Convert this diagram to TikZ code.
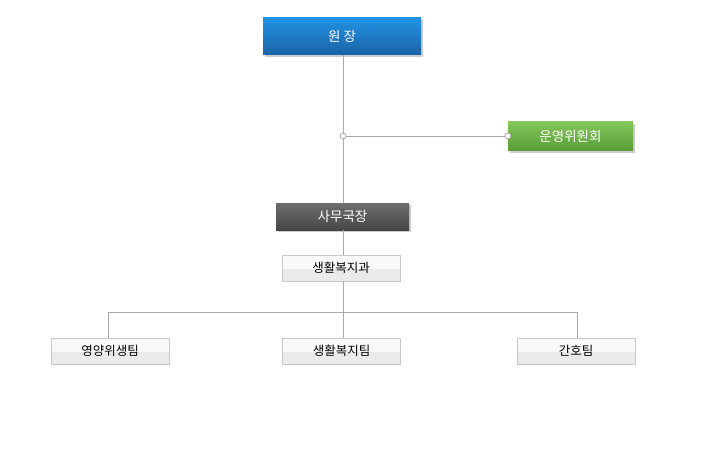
\documentclass[tikz,border=0pt]{standalone}
\usepackage{fontspec}
\setmainfont{Noto Sans CJK KR}
\usetikzlibrary{shadows}
\definecolor{lineg}{HTML}{A8A8A8}
\definecolor{bluetop}{HTML}{2193E3}
\definecolor{bluebot}{HTML}{1A62A6}
\definecolor{greentop}{HTML}{84C75A}
\definecolor{greenbot}{HTML}{5A9C38}
\definecolor{darktop}{HTML}{6E6E6E}
\definecolor{darkbot}{HTML}{474747}
\definecolor{lightbd}{HTML}{C8C8C8}
\definecolor{lighttop}{HTML}{F9F9F9}
\definecolor{lightbot}{HTML}{EAEAEA}
\tikzset{
  conn/.style={draw=lineg, line width=0.8pt},
  headbox/.style={minimum height=#1, inner sep=0pt, text=white, font=\fontsize{13.5}{15}\selectfont,
    drop shadow={shadow xshift=2pt, shadow yshift=-2pt, opacity=0.2, fill=black}},
  lightbox/.style={minimum width=118pt, minimum height=26pt, inner sep=0pt, draw=lightbd,
    fill=lightbot, font=\fontsize{12.5}{14}\selectfont,
    path picture={\fill[lighttop] (path picture bounding box.north west) rectangle ([yshift=-1pt]path picture bounding box.east);}},
  dot/.style={circle, draw=lineg, fill=white, line width=0.8pt, minimum size=6pt, inner sep=0pt}
}
\begin{document}
\begin{tikzpicture}[x=1pt,y=-1pt]
\useasboundingbox[fill=white] (0,0) rectangle (710,452);
\node[headbox=37pt, minimum width=158pt, top color=bluetop, bottom color=bluebot] (wj) at (342,36.5) {원 장};
\node[headbox=29pt, minimum width=125pt, top color=greentop, bottom color=greenbot] (ow) at (570.5,136) {운영위원회};
\node[headbox=27pt, minimum width=133pt, top color=darktop, bottom color=darkbot] (sm) at (342.5,216.5) {사무국장};
\node[lightbox] (gwa) at (341,268) {생활복지과};
\node[lightbox] (t1) at (110,351) {영양위생팀};
\node[lightbox] (t2) at (341.5,351) {생활복지팀};
\node[lightbox] (t3) at (576,351) {간호팀};
\coordinate (j) at (343,136);
\coordinate (b) at (343,312);
\coordinate (bl) at (108,312);
\coordinate (br) at (577,312);
\draw[conn] (wj.south -| j) -- (sm.north -| j);
\draw[conn] (sm.south -| j) -- (gwa.north -| j);
\draw[conn] (gwa.south -| j) -- (b);
\draw[conn] (j) -- (ow.west);
\draw[conn] (bl) -- (br);
\draw[conn] (bl) -- (t1.north -| bl);
\draw[conn] (b) -- (t2.north -| b);
\draw[conn] (br) -- (t3.north -| br);
\node[dot] (d1) at (j) {};
\node[dot] (d2) at (ow.west) {};
\end{tikzpicture}
\end{document}
